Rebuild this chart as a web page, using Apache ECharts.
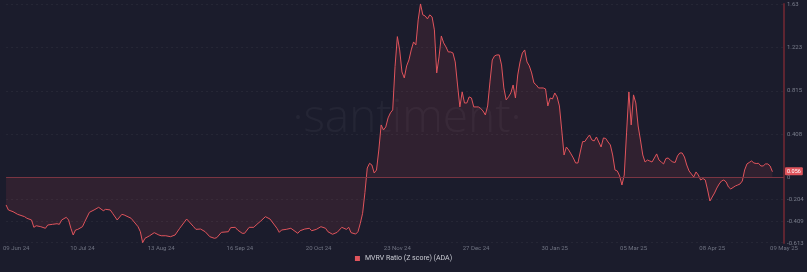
<!DOCTYPE html>
<html><head><meta charset="utf-8">
<script src="https://cdn.jsdelivr.net/npm/echarts@6/dist/echarts.min.js"></script>
<style>html,body{margin:0;padding:0;background:#1b1c2c;}#c{width:807px;height:272px;}</style>
</head><body><div id="c"></div>
<script>
// Day offsets from 2024-06-07 (UTC) and MVRV Z-score values
const startDate = '2024-06-07';
const endDate = '2025-05-09';
const dayIdx = [0,1,3,5,8,9,11,12,13,15,17,18,20,22,23,24,26,27,28,29,30,31,33,34,36,38,40,42,43,45,46,48,50,51,54,55,57,58,59,60,62,64,66,67,69,71,73,75,78,81,82,84,86,88,90,91,93,96,97,99,100,102,103,105,107,108,110,112,114,117,118,119,121,123,126,127,129,131,132,134,136,138,139,141,143,145,147,148,149,151,152,153,154,155,
156,157,158,159,160,161,162,163,164,165,166,167,168,169,170,171,172,173,174,175,176,177,178,179,180,181,182,183,184,185,186,187,188,189,190,191,192,193,194,195,196,197,198,199,200,201,202,203,204,205,206,207,208,209,210,211,212,213,214,215,216,217,218,219,220,221,222,223,224,225,226,227,228,229,230,231,232,233,234,235,236,237,238,239,240,241,242,243,244,245,246,247,248,249,250,251,252,253,254,255,256,257,258,259,260,261,262,263,264,265,266,267,268,269,270,271,272,273,274,275,276,277,278,279,280,281,282,283,284,285,286,287,288,289,290,291,292,293,294,295,296,297,298,299,300,301,302,303,304,305,306,307,308,309,310,311,312,313,314,315,316,317,318,319,320,321,322,323,324,325,326,327,328,329,330,331];
const mvrvZ = [-0.256,-0.303,-0.319,-0.344,-0.366,-0.381,-0.397,-0.466,-0.451,-0.460,-0.475,-0.444,-0.438,-0.432,-0.438,-0.397,-0.372,-0.397,-0.475,-0.538,-0.491,-0.485,-0.460,-0.413,-0.325,-0.303,-0.278,-0.310,-0.297,-0.303,-0.334,-0.397,-0.344,-0.350,-0.381,-0.407,-0.460,-0.507,-0.610,-0.569,-0.545,-0.516,-0.538,-0.545,-0.545,-0.554,-0.538,-0.475,-0.388,-0.460,-0.485,-0.482,-0.507,-0.554,-0.569,-0.563,-0.513,-0.507,-0.469,-0.466,-0.491,-0.522,-0.522,-0.466,-0.466,-0.444,-0.407,-0.366,-0.388,-0.475,-0.513,-0.491,-0.485,-0.475,-0.522,-0.498,-0.482,-0.475,-0.498,-0.485,-0.460,-0.475,-0.507,-0.531,-0.513,-0.466,-0.485,-0.466,-0.516,-0.529,-0.507,-0.428,-0.334,-0.140,
0.091,0.135,0.119,0.044,0.072,0.260,0.495,0.448,0.476,0.561,0.608,0.636,1.042,1.324,1.199,0.992,0.936,1.049,1.105,1.199,1.274,1.246,1.481,1.631,1.528,1.518,1.490,1.528,1.509,1.387,0.983,1.133,1.330,1.265,1.227,1.180,1.180,1.171,1.086,0.870,0.664,0.805,0.701,0.701,0.758,0.748,0.664,0.664,0.664,0.650,0.626,0.589,0.673,0.899,1.105,1.143,1.152,1.152,1.058,0.842,0.730,0.758,0.795,0.870,0.748,0.964,1.086,1.171,1.199,1.086,1.049,0.983,0.889,0.870,0.842,0.842,0.842,0.833,0.673,0.748,0.739,0.795,0.758,0.673,0.448,0.213,0.288,0.260,0.223,0.185,0.138,0.138,0.241,0.338,0.340,0.373,0.401,0.354,0.345,0.382,0.335,0.288,0.373,0.368,0.335,0.307,0.213,0.072,0.063,0.016,-0.069,0.025,0.420,0.805,0.495,0.777,0.701,0.485,0.354,0.213,0.147,0.166,0.157,0.147,0.185,0.223,0.166,0.147,0.129,0.180,0.185,0.162,0.147,0.143,0.204,0.232,0.232,0.194,0.119,0.063,0.035,0.007,0.054,0.025,-0.022,-0.008,-0.022,-0.115,-0.219,-0.181,-0.144,-0.097,-0.059,-0.031,-0.022,-0.040,-0.087,-0.106,-0.092,-0.078,-0.069,-0.059,-0.031,0.072,0.129,0.143,0.157,0.138,0.133,0.135,0.110,0.110,0.129,0.129,0.110,0.056];
const xTickDates = ['2024-06-09','2024-07-10','2024-08-13','2024-09-16','2024-10-20','2024-11-23','2024-12-27','2025-01-30','2025-03-05','2025-04-08','2025-05-09'];
const yTickValues = [-0.613,-0.409,-0.204,0,0.408,0.815,1.223,1.63];
const yTickLabels = ['-0.613','-0.409','-0.204','0','0.408','0.815','1.223','1.63'];
const seriesName = 'MVRV Ratio (Z score) (ADA)';

const DAY = 86400000;
const t0 = Date.parse(startDate + 'T00:00:00Z');
const dayOf = s => Math.round((Date.parse(s + 'T00:00:00Z') - t0) / DAY);
const seriesData = dayIdx.map((d, i) => [d, mvrvZ[i]]);
const xTicks = xTickDates.map(dayOf);
const MON = ['Jan','Feb','Mar','Apr','May','Jun','Jul','Aug','Sep','Oct','Nov','Dec'];
const fmtDay = v => { const d = new Date(t0 + Math.round(v) * DAY); return String(d.getUTCDate()).padStart(2,'0') + ' ' + MON[d.getUTCMonth()] + ' ' + String(d.getUTCFullYear()).slice(2); };
const lastVal = mvrvZ[mvrvZ.length - 1];

const chart = echarts.init(document.getElementById('c'), null, {renderer: 'canvas'});
chart.setOption({
  backgroundColor: '#1b1c2c',
  animation: false,
  graphic: [{
    type: 'text', x: 407, y: 119, z: 0, silent: true,
    style: { text: '·santiment·', font: '300 46px "Open Sans"', fill: 'rgba(255,255,255,0.045)', textAlign: 'center', textVerticalAlign: 'middle' }
  }],
  grid: { left: 0, right: 23, top: 4, bottom: 29, containLabel: false },
  legend: {
    data: [seriesName], bottom: 5, left: 'center', icon: 'rect', itemWidth: 5, itemHeight: 5, itemGap: 4,
    textStyle: { color: '#c9cbd3', fontSize: 7, fontFamily: 'Roboto' }
  },
  xAxis: {
    type: 'value', min: 0, max: dayOf(endDate),
    axisLine: { show: false }, axisTick: { show: false },
    splitLine: { show: false },
    axisLabel: {
      customValues: xTicks, color: '#6f7382', fontSize: 6, fontFamily: 'Roboto', margin: 2, hideOverlap: false,
      formatter: (v) => v === xTicks[0] ? '{f|' + fmtDay(v) + '}' : fmtDay(v),
      rich: { f: { padding: [0, 0, 0, 11], color: '#6f7382', fontSize: 6, fontFamily: 'Roboto' } }
    }
  },
  yAxis: {
    type: 'value', position: 'right', min: -0.613, max: 1.63,
    axisLine: { show: true, onZero: false, lineStyle: { color: '#5e2531', width: 2 } },
    axisTick: { show: false },
    splitLine: { show: false },
    axisLabel: {
      customValues: yTickValues, color: '#7a7e8c', fontSize: 6, fontFamily: 'Roboto', margin: 3,
      formatter: (v) => { const i = yTickValues.findIndex(t => Math.abs(t - v) < 1e-6); return i >= 0 ? yTickLabels[i] : ''; }
    }
  },
  series: [{
    name: seriesName, type: 'line', data: seriesData, showSymbol: false, symbol: 'none',
    lineStyle: { color: '#e0545c', width: 1 },
    itemStyle: { color: '#e0545c' },
    areaStyle: { color: 'rgba(214,74,86,0.17)', origin: 0 },
    z: 3,
    markLine: {
      silent: true, symbol: 'none', animation: false,
      data: yTickValues.filter(v => v !== 0).map(v => ({ yAxis: v, lineStyle: { color: 'rgba(255,255,255,0.05)', type: [2, 3], width: 1 }, label: { show: false } }))
        .concat([{ yAxis: 0, lineStyle: { color: '#7a3542', type: 'solid', width: 1.2 }, label: { show: false } }])
        .concat([{ yAxis: lastVal, lineStyle: { color: 'rgba(0,0,0,0)', width: 1 }, label: { show: true, position: 'end', distance: 1, formatter: lastVal.toFixed(3), color: '#ffffff', backgroundColor: '#e0545c', fontSize: 5.5, fontFamily: 'Roboto', padding: [1, 2, 1, 2], borderRadius: 1 } }])
    }
  }]
});
</script></body></html>
